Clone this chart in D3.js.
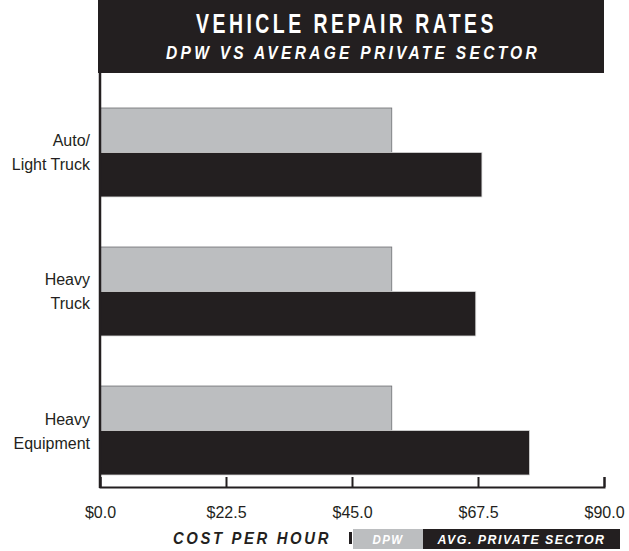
<!DOCTYPE html>
<html>
<head>
<meta charset="utf-8">
<script src="https://cdn.jsdelivr.net/npm/d3@7"></script>
<style>
  body { margin: 0; background: #fff; }
  svg text { fill: #231f20; }
  .cond { font-family: "Liberation Sans", Arial, sans-serif; font-weight: bold; }
  .lbl { font-family: "Liberation Sans", "Roboto", sans-serif; font-size: 16px; }
  .axis text { font-family: "Liberation Sans", "Roboto", sans-serif; font-size: 16px; fill: #231f20; }
  .axis path, .axis line { stroke: #231f20; stroke-width: 2; }
</style>
</head>
<body>
<div id="chart"></div>
<script>
var categories = [["Auto/", "Light Truck"], ["Heavy", "Truck"], ["Heavy", "Equipment"]];
var dpw = [52.1, 52.1, 52.1];
var privateSector = [68.2, 67.1, 76.7];
var tickValues = [0, 22.5, 45, 67.5, 90];
var seriesNames = ["DPW", "AVG. PRIVATE SECTOR"];

var W = 629, H = 551;
var dark = "#231f20", grey = "#bcbec0";

var svg = d3.select("#chart").append("svg")
    .attr("width", W)
    .attr("height", H);

var indata = categories.map(function(c, i) {
  return {cat: c.join(" "), lines: c, values: [dpw[i], privateSector[i]]};
});

var xScale = d3.scaleLinear()
    .domain([0, 90])
    .range([100, 604]);

var yScale = d3.scaleBand()
    .domain(indata.map(function(d) { return d.cat; }))
    .range([108, 475])
    .paddingInner(0.36)
    .paddingOuter(0);

var sub = d3.scaleBand()
    .domain([0, 1])
    .range([0, yScale.bandwidth()]);

// condensed look: squeeze letter-spaced text into a measured width
function squeeze(sel, len) {
  sel.attr("textLength", len).attr("lengthAdjust", "spacingAndGlyphs");
}

// title block
svg.append("rect")
    .attr("x", 98).attr("y", 0)
    .attr("width", 506).attr("height", 73)
    .attr("fill", dark);

svg.append("text")
    .attr("class", "cond")
    .attr("x", 196).attr("y", 33)
    .style("font-size", "28px")
    .style("letter-spacing", "5px")
    .style("fill", "#fff")
    .text("VEHICLE REPAIR RATES")
    .call(squeeze, 301);

svg.append("text")
    .attr("class", "cond")
    .attr("x", 166).attr("y", 59)
    .style("font-size", "19px")
    .style("font-style", "italic")
    .style("letter-spacing", "4px")
    .style("fill", "#fff")
    .text("DPW VS AVERAGE PRIVATE SECTOR")
    .call(squeeze, 374);

// bars
var groups = svg.selectAll(".grp")
    .data(indata)
  .enter().append("g")
    .attr("class", "grp")
    .attr("transform", function(d) { return "translate(0," + yScale(d.cat) + ")"; });

groups.selectAll("rect")
    .data(function(d) { return d.values; })
  .enter().append("rect")
    .attr("x", xScale(0))
    .attr("y", function(d, i) { return sub(i); })
    .attr("width", function(d) { return xScale(d) - xScale(0); })
    .attr("height", sub.bandwidth())
    .attr("fill", function(d, i) { return i == 0 ? grey : dark; })
    .attr("stroke", function(d, i) { return i == 0 ? "#6d6e71" : "#d8d8d8"; })
    .attr("stroke-width", 0.8);

// category labels
groups.append("text")
    .attr("class", "lbl")
    .attr("text-anchor", "end")
    .attr("x", 90)
    .attr("y", yScale.bandwidth() / 2)
    .selectAll("tspan")
    .data(function(d) { return d.lines; })
  .enter().append("tspan")
    .attr("x", 90)
    .attr("dy", function(d, i) { return i == 0 ? "-6" : "24"; })
    .text(function(d) { return d; });

// x axis, ticks pointing up
svg.append("g")
    .attr("class", "axis")
    .attr("transform", "translate(0,487)")
    .call(d3.axisBottom(xScale)
      .tickValues(tickValues)
      .tickSize(-10)
      .tickPadding(20)
      .tickFormat(function(d) { return "$" + d3.format(".1f")(d); }));

// left axis line
svg.append("line")
    .attr("x1", 100).attr("x2", 100)
    .attr("y1", 73).attr("y2", 488)
    .attr("stroke", dark)
    .attr("stroke-width", 2.5);

// legend
svg.append("text")
    .attr("class", "cond")
    .attr("x", 173).attr("y", 544)
    .style("font-size", "17px")
    .style("font-style", "italic")
    .style("letter-spacing", "3px")
    .text("COST PER HOUR")
    .call(squeeze, 158);

svg.append("rect")
    .attr("x", 349).attr("y", 532)
    .attr("width", 3).attr("height", 12)
    .attr("fill", dark);

var legX = d3.scaleOrdinal().domain(seriesNames).range([353, 423]);
var legW = d3.scaleOrdinal().domain(seriesNames).range([70, 197]);
var legT = d3.scaleOrdinal().domain(seriesNames).range([31, 168]);

var leg = svg.selectAll(".leg")
    .data(seriesNames)
  .enter().append("g")
    .attr("class", "leg");

leg.append("rect")
    .attr("x", function(d) { return legX(d); })
    .attr("y", 529)
    .attr("width", function(d) { return legW(d); })
    .attr("height", 20)
    .attr("fill", function(d, i) { return i == 0 ? grey : dark; });

leg.append("text")
    .attr("class", "cond")
    .attr("x", function(d) { return legX(d) + (legW(d) - legT(d)) / 2; })
    .attr("y", 544)
    .style("font-size", "12.5px")
    .style("font-style", "italic")
    .style("letter-spacing", "1.5px")
    .style("fill", "#fff")
    .text(function(d) { return d; })
    .each(function(d) { d3.select(this).call(squeeze, legT(d)); });
</script>
</body>
</html>
